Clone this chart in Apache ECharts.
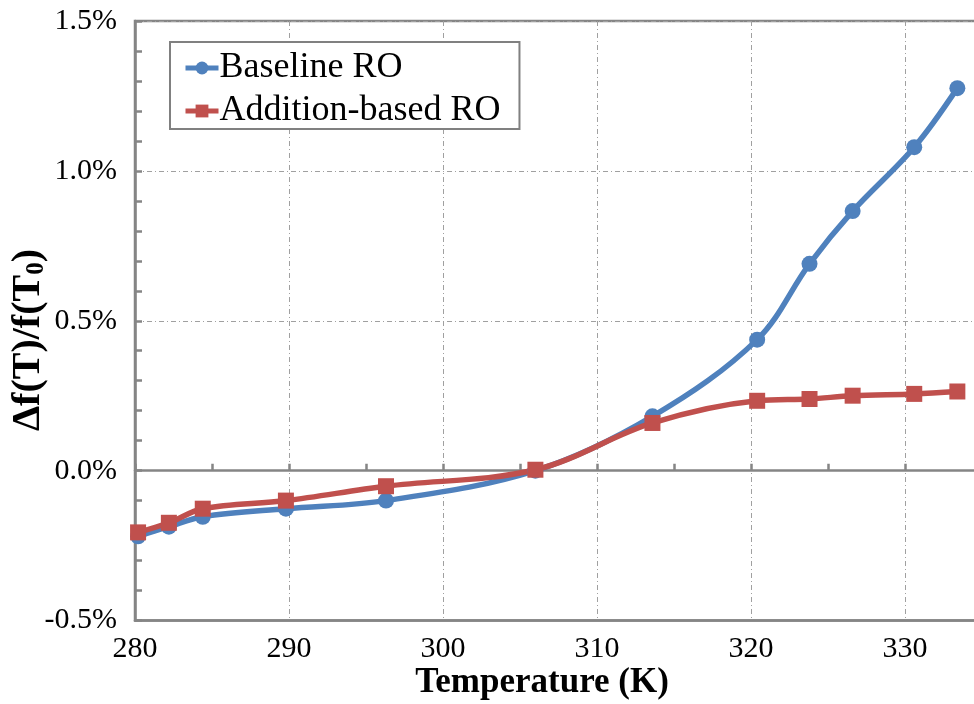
<!DOCTYPE html>
<html>
<head>
<meta charset="utf-8">
<script src="https://cdn.jsdelivr.net/npm/echarts@6/dist/echarts.min.js"></script>
<style>html,body{margin:0;padding:0;background:#fff;}#c{width:974px;height:704px;}</style>
</head>
<body>
<div id="c"></div>
<script>
// Data
const temperatures = [280.2, 282.2, 284.4, 289.8, 296.3, 306.0, 313.6, 320.4, 323.8, 326.6, 330.6, 333.4];
const baselineRO = [-0.219, -0.187, -0.154, -0.127, -0.100, 0.000, 0.181, 0.437, 0.690, 0.866, 1.079, 1.276];
const additionRO = [-0.206, -0.174, -0.127, -0.100, -0.052, 0.003, 0.159, 0.233, 0.239, 0.250, 0.256, 0.264];
const seriesNames = ['Baseline RO', 'Addition-based RO'];
const xTitle = 'Temperature (K)';

const FONT = '"Liberation Serif", "Times New Roman", serif';
const AXIS = '#858585';
const GRIDC = '#a0a0a0';

const chart = echarts.init(document.getElementById('c'), null, {renderer: 'canvas'});
const pairs = (ys) => temperatures.map((t, i) => [t, ys[i]]);

chart.setOption({
  animation: false,
  backgroundColor: '#fff',
  grid: {
    left: 135, top: 21, width: 924, height: 599.5,
    outerBoundsMode: 'none', containLabel: false,
    show: true, borderColor: AXIS, borderWidth: 2.5, backgroundColor: 'transparent'
  },
  legend: {
    orient: 'vertical',
    left: 170, top: 42,
    padding: [8, 19, 0, 13],
    borderColor: '#808080', borderWidth: 2,
    backgroundColor: '#fff',
    itemWidth: 33, itemHeight: 16, itemGap: 7,
    lineStyle: {width: 5},
    textStyle: {fontFamily: FONT, fontSize: 36, color: '#000', lineHeight: 36, padding: [0,0,0,-4]},
    data: seriesNames
  },
  xAxis: [
    {
      type: 'value', min: 280, max: 340, interval: 10, position: 'bottom',
      axisLine: {show: true, onZero: false, lineStyle: {color: AXIS, width: 2.5}},
      axisTick: {show: false},
      axisLabel: {fontFamily: FONT, fontSize: 30, color: '#000', margin: 14},
      splitLine: {show: true, lineStyle: {color: GRIDC, width: 1, type: [5, 3, 1, 3]}}
    },
    {
      type: 'value', min: 280, max: 340, interval: 5, position: 'bottom',
      axisLine: {show: true, onZero: true, lineStyle: {color: AXIS, width: 2.5}},
      axisTick: {show: true, inside: true, length: 7, lineStyle: {color: AXIS, width: 2.5}},
      axisLabel: {show: false},
      splitLine: {show: false}
    }
  ],
  yAxis: {
    type: 'value', min: -0.5, max: 1.5, interval: 0.5,
    axisLine: {show: true, onZero: false, lineStyle: {color: AXIS, width: 2.5}},
    axisTick: {show: true, inside: true, length: 7, lineStyle: {color: AXIS, width: 2.5}},
    minorTick: {show: true, splitNumber: 5, length: 7, lineStyle: {color: AXIS, width: 2.5}},
    axisLabel: {fontFamily: FONT, fontSize: 30, color: '#000', margin: 18,
      formatter: (v) => v.toFixed(1) + '%'},
    splitLine: {show: true, lineStyle: {color: GRIDC, width: 1, type: [5, 3, 1, 3]}}
  },
  graphic: [
    {
      type: 'text',
      style: {text: xTitle, font: 'bold 35px ' + FONT, fill: '#000',
        x: 542, y: 683, align: 'center', verticalAlign: 'middle'}
    },
    {
      type: 'text', x: 29, y: 340, rotation: Math.PI / 2,
      style: {
        text: '{a|Δf(T)/f(T}{s|0}{a|)}',
        x: 0, y: 0, align: 'center', verticalAlign: 'middle',
        rich: {
          a: {fontFamily: FONT, fontWeight: 'bold', fontSize: 40, fill: '#000', color: '#000'},
          s: {fontFamily: FONT, fontWeight: 'bold', fontSize: 25, fill: '#000', color: '#000', padding: [16, 0, 0, 0]}
        }
      }
    }
  ],
  series: [
    {
      name: seriesNames[0], type: 'line', xAxisIndex: 0, smooth: 0.35,
      data: pairs(baselineRO),
      symbol: 'circle', symbolSize: 16,
      lineStyle: {color: '#4F81BD', width: 5.5},
      itemStyle: {color: '#4F81BD'}
    },
    {
      name: seriesNames[1], type: 'line', xAxisIndex: 0, smooth: 0.35,
      data: pairs(additionRO),
      symbol: 'rect', symbolSize: 16,
      lineStyle: {color: '#C0504D', width: 5.5},
      itemStyle: {color: '#C0504D'}
    }
  ]
});
</script>
</body>
</html>
